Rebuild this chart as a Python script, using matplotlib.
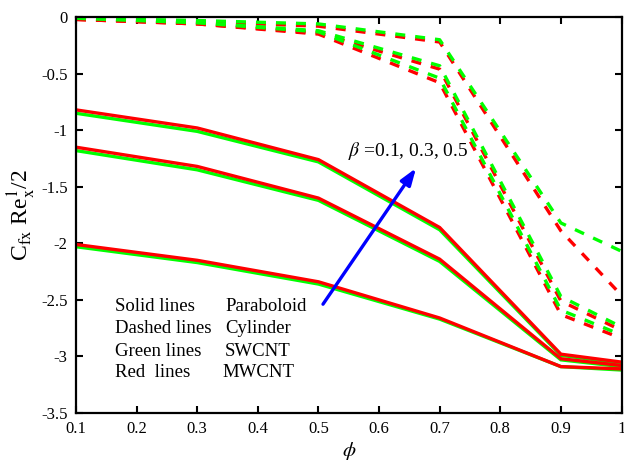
import matplotlib
matplotlib.use("Agg")
import matplotlib.pyplot as plt

plt.rcParams['font.family'] = ['Liberation Serif', 'DejaVu Serif']
plt.rcParams['mathtext.fontset'] = 'stix'
plt.rcParams['axes.unicode_minus'] = False

# volume fraction
phi = [0.1, 0.3, 0.5, 0.7, 0.9, 1.0]

# Paraboloid (solid), three beta values
para_mw = [
    [-0.82, -0.98, -1.26, -1.86, -2.98, -3.05],
    [-1.15, -1.32, -1.60, -2.14, -3.02, -3.08],
    [-2.01, -2.15, -2.34, -2.66, -3.09, -3.11],
]
para_sw = [
    [-0.85, -1.01, -1.28, -1.88, -2.99, -3.06],
    [-1.18, -1.35, -1.62, -2.16, -3.03, -3.09],
    [-2.03, -2.17, -2.36, -2.67, -3.09, -3.12],
]

# Cylinder (dashed), three beta values
cyl_mw = [
    [-0.02, -0.04, -0.08, -0.22, -1.89, -2.46],
    [-0.02, -0.06, -0.14, -0.46, -2.51, -2.77],
    [-0.02, -0.06, -0.15, -0.58, -2.63, -2.84],
]
cyl_sw = [
    [-0.01, -0.03, -0.06, -0.20, -1.82, -2.07],
    [-0.01, -0.05, -0.12, -0.43, -2.47, -2.74],
    [-0.01, -0.05, -0.13, -0.54, -2.59, -2.81],
]

xticks = [0.1, 0.2, 0.3, 0.4, 0.5, 0.6, 0.7, 0.8, 0.9, 1.0]
xticklabels = ['0.1', '0.2', '0.3', '0.4', '0.5', '0.6', '0.7', '0.8', '0.9', '1']
yticks = [0, -0.5, -1, -1.5, -2, -2.5, -3, -3.5]
yticklabels = ['0', '-0.5', '-1', '-1.5', '-2', '-2.5', '-3', '-3.5']

key_left = ['Solid lines', 'Dashed lines', 'Green lines', 'Red  lines']
key_right = ['Paraboloid', 'Cylinder', 'SWCNT', 'MWCNT']
beta_text = r'$\beta$ =0.1, 0.3, 0.5'

RED = '#ff0000'
GREEN = '#00ff00'
LW = 2.4

fig = plt.figure(figsize=(6.24, 4.63), dpi=100)
ax = fig.add_axes([0.1218, 0.108, 0.8742, 0.855])

dash = (0, (3, 3))
for mw, sw in zip(cyl_mw, cyl_sw):
    ax.plot(phi, mw, color=RED, lw=LW, linestyle=dash)
    ax.plot(phi, sw, color=GREEN, lw=LW, linestyle=dash)

for mw, sw in zip(para_mw, para_sw):
    ax.plot(phi, sw, color=GREEN, lw=LW, solid_joinstyle='miter')
    ax.plot(phi, mw, color=RED, lw=LW, solid_joinstyle='miter')

ax.set_xlim(0.1, 1.0)
ax.set_ylim(-3.5, 0)
ax.set_xticks(xticks)
ax.set_xticklabels(xticklabels)
ax.set_yticks(yticks)
ax.set_yticklabels(yticklabels)
ax.tick_params(direction='in', length=5, width=1.5, labelsize=12,
               top=True, right=True, pad=6)
for s in ax.spines.values():
    s.set_linewidth(1.6)

ax.set_xlabel(r'$\phi$', fontsize=15, labelpad=2)
ax.set_ylabel(r'C$_{\rm fx}$ Re$_{\rm x}^{\rm 1}$/2', fontsize=17, labelpad=2)

# key text block
rows_y = [-2.597, -2.797, -2.995, -3.186]
right_x = [0.347, 0.346, 0.345, 0.342]
for yv, left, right, xr in zip(rows_y, key_left, key_right, right_x):
    ax.text(0.164, yv, left, fontsize=13.5, va='baseline', ha='left')
    ax.text(xr, yv, right, fontsize=13.5, va='baseline', ha='left')

ax.text(0.549, -1.229, beta_text, fontsize=14, va='baseline', ha='left')
ax.annotate('', xy=(0.661, -1.335), xytext=(0.5075, -2.538),
            arrowprops=dict(arrowstyle='-|>,head_length=1.0,head_width=0.35',
                            color='#0000ff', lw=2.4, shrinkA=0, shrinkB=0))

fig.savefig('out.png', dpi=100)
